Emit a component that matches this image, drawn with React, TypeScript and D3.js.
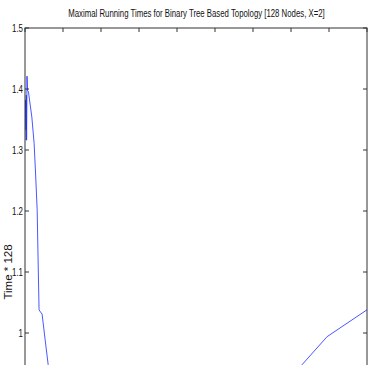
import React, { useRef, useEffect } from "react";
import * as d3 from "d3";

// x positions (iteration index) and running times (Time * 128)
const xs = [0, 1.3, 2.6, 3.4, 4.2, 5.3, 6.6, 9.2, 13, 18, 24, 28, 32, 34, 37, 39, 45, 53, 61, 100, 400, 650, 729, 795, 900];
const ys = [1.316, 1.382, 1.333, 1.39, 1.316, 1.421, 1.398, 1.395, 1.377, 1.354, 1.311, 1.259, 1.202, 1.136, 1.038, 1.036, 1.031, 0.989, 0.948, 0.8, 0.75, 0.85, 0.948, 0.994, 1.038];
const yTicks = [1, 1.1, 1.2, 1.3, 1.4, 1.5];
const xTicks = [0, 100, 200, 300, 400, 500, 600, 700, 800, 900];

const title = "Maximal Running Times for Binary Tree Based Topology [128 Nodes, X=2]";
const yLabel = "Time * 128";

const App = () => {
  const ref = useRef(null);

  useEffect(() => {
    const svg = d3.select(ref.current);
    svg.selectAll("*").remove();

    const left = 25, right = 367, top = 28, bottom = 516;
    const x = d3.scaleLinear().domain([0, 900]).range([left, right]);
    const y = d3.scaleLinear().domain([0.7, 1.5]).range([bottom, top]);
    const font = "'Liberation Sans', Arial, sans-serif";

    svg.append("rect")
      .attr("width", 373).attr("height", 365).attr("fill", "#fff");

    // the data line, clipped to the axes box
    svg.append("clipPath").attr("id", "plotclip")
      .append("rect")
      .attr("x", left).attr("y", top)
      .attr("width", right - left).attr("height", bottom - top);

    const data = xs.map((v, i) => [v, ys[i]]);
    svg.append("path")
      .datum(data)
      .attr("clip-path", "url(#plotclip)")
      .attr("fill", "none")
      .attr("stroke", "#1a2cff")
      .attr("stroke-width", 0.8)
      .attr("d", d3.line().x((d) => x(d[0])).y((d) => y(d[1])));

    // box
    svg.append("rect")
      .attr("x", left).attr("y", top)
      .attr("width", right - left).attr("height", bottom - top)
      .attr("fill", "none").attr("stroke", "#333").attr("stroke-width", 1);

    const tickLen = 4;
    // ticks pointing inward
    const tg = svg.append("g").attr("stroke", "#333");
    yTicks.forEach((t) => {
      tg.append("line").attr("x1", left).attr("x2", left + tickLen)
        .attr("y1", y(t)).attr("y2", y(t));
      tg.append("line").attr("x1", right).attr("x2", right - tickLen)
        .attr("y1", y(t)).attr("y2", y(t));
    });
    xTicks.forEach((t) => {
      tg.append("line").attr("x1", x(t)).attr("x2", x(t))
        .attr("y1", top).attr("y2", top + tickLen);
    });

    // condensed tick labels
    svg.append("g")
      .selectAll("text")
      .data(yTicks)
      .enter()
      .append("text")
      .attr("transform", (d) => `translate(${left - 2},${y(d)}) scale(0.72,1)`)
      .attr("dy", "0.35em")
      .attr("text-anchor", "end")
      .attr("font-family", font)
      .attr("font-size", 11)
      .attr("fill", "#111")
      .text((d) => (d === 1 ? "1" : d3.format(".1f")(d)));

    // condensed title
    svg.append("text")
      .attr("transform", "translate(196.5,17) scale(0.71,1)")
      .attr("text-anchor", "middle")
      .attr("font-family", font)
      .attr("font-size", 11)
      .attr("fill", "#111")
      .text(title);

    svg.append("text")
      .attr("transform", "translate(12,272) rotate(-90)")
      .attr("text-anchor", "middle")
      .attr("font-family", font)
      .attr("font-size", 11.5)
      .attr("fill", "#111")
      .text(yLabel);
  }, []);

  return (
    <svg
      ref={ref}
      width={373}
      height={365}
      style={{ position: "absolute", left: 0, top: 0 }}
    />
  );
};

export default App;
